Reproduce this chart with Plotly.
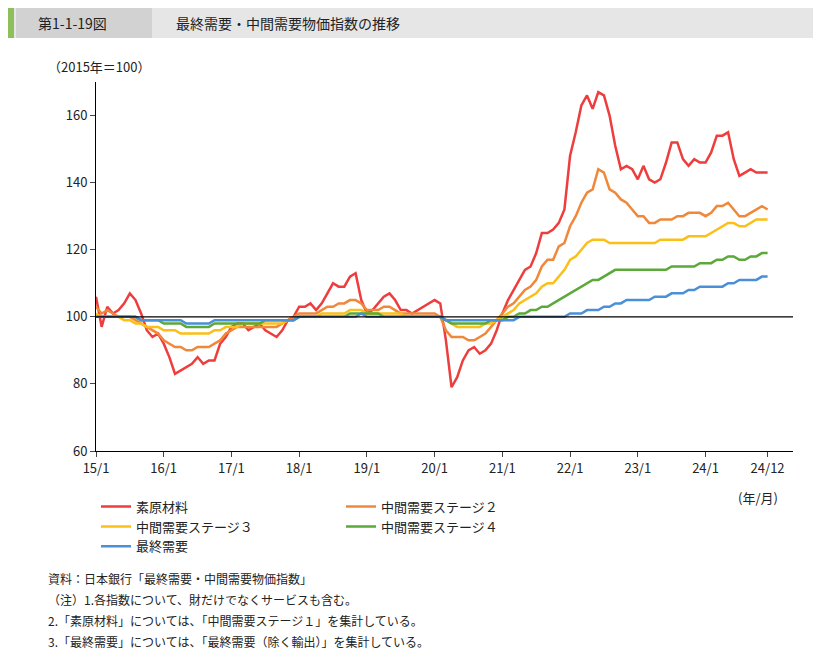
import plotly.graph_objects as go

raw = [106,97,103,101,102,104,107,105,101,96,94,95,
92,88,83,84,85,86,88,86,87,87,92,94,
97,98,98,96,97,98,96,95,94,96,99,100,
103,103,104,102,104,107,110,109,109,112,113,105,
101,102,104,106,107,105,102,102,101,102,103,104,
105,104,93,79,82,87,90,91,89,90,92,96,
101,105,108,111,114,115,119,125,125,126,128,132,
148,155,163,166,162,167,166,160,151,144,145,144,
141,145,141,140,141,146,152,152,147,145,147,146,
146,149,154,154,155,147,142,143,144,143,143,143]
st2 = [103,101,102,101,100,100,100,99,98,97,96,95,
93,92,91,91,90,90,91,91,91,92,93,95,
96,97,97,97,97,97,97,97,97,98,99,100,
101,101,101,101,102,103,103,104,104,105,105,104,
102,102,102,103,103,102,101,101,101,101,101,101,
101,100,96,94,94,94,93,93,94,95,97,99,
101,103,104,106,108,109,111,115,117,117,121,122,
127,130,134,137,138,144,143,138,137,135,134,132,
130,130,128,128,129,129,129,130,130,131,131,131,
130,131,133,133,134,132,130,130,131,132,133,132]
st3 = [101,100,100,100,100,99,99,98,98,97,97,97,
96,96,96,95,95,95,95,95,95,96,96,97,
97,97,98,98,98,98,98,98,98,98,99,99,
100,100,100,100,101,101,101,101,101,102,102,102,
101,101,101,101,101,101,101,100,100,100,100,100,
100,100,99,98,97,97,97,97,97,98,98,99,
100,101,102,104,105,106,107,109,110,110,112,114,
117,118,120,122,123,123,123,122,122,122,122,122,
122,122,122,122,123,123,123,123,123,124,124,124,
124,125,126,127,128,128,127,127,128,129,129,129]
st4 = [100,100,100,100,100,100,100,100,99,99,99,99,
98,98,98,98,97,97,97,97,97,98,98,98,
98,98,98,98,98,98,99,99,99,99,99,99,
100,100,100,100,100,100,100,100,100,101,101,101,
101,101,101,100,100,100,100,100,100,100,100,100,
100,100,99,98,98,98,98,98,98,98,99,99,
99,100,100,101,101,102,102,103,103,104,105,106,
107,108,109,110,111,111,112,113,114,114,114,114,
114,114,114,114,114,114,115,115,115,115,115,116,
116,116,117,117,118,118,117,117,118,118,119,119]
final = [100,100,100,100,100,100,100,100,99,99,99,99,
99,99,99,99,98,98,98,98,98,99,99,99,
99,99,99,99,99,99,99,99,99,99,99,99,
100,100,100,100,100,100,100,100,100,100,100,101,
100,100,100,100,100,100,100,100,100,100,100,100,
100,100,99,99,99,99,99,99,99,99,99,99,
99,99,99,100,100,100,100,100,100,100,100,100,
101,101,101,102,102,102,103,103,104,104,105,105,
105,105,105,106,106,106,107,107,107,108,108,109,
109,109,109,109,110,110,111,111,111,111,112,112]
names = ["素原材料","中間需要ステージ２","中間需要ステージ３","中間需要ステージ４","最終需要"]
colors = ["#ee3d3d","#f0883a","#fbbf16","#5aa93a","#4a90d6"]
tick_vals = [0,12,24,36,48,60,72,84,96,108,119]
tick_text = ["15/1","16/1","17/1","18/1","19/1","20/1","21/1","22/1","23/1","24/1","24/12"]

x = list(range(len(raw)))
fig = go.Figure()
for n, s, c in zip(names, [raw, st2, st3, st4, final], colors):
    fig.add_trace(go.Scatter(x=x, y=s, name=n, mode="lines", line=dict(color=c, width=2.5)))

font = "Noto Sans CJK JP"
fig.update_layout(
    width=821, height=649, plot_bgcolor="white", paper_bgcolor="white",
    margin=dict(l=88, r=36, t=74, b=206),
    font=dict(family=font, size=13, color="#222"),
    xaxis=dict(range=[0, 123.5], tickvals=tick_vals, ticktext=tick_text, showgrid=False,
               showline=True, linecolor="black", ticks="outside", ticklen=5, zeroline=False),
    yaxis=dict(range=[60, 170], tickvals=[60,80,100,120,140,160], showgrid=False,
               showline=True, linecolor="black", ticks="outside", ticklen=5, zeroline=False),
    legend=dict(orientation="h", x=0.0, y=-0.11, xanchor="left", yanchor="top",
                entrywidth=200, entrywidthmode="pixels", font=dict(size=13),
                tracegroupgap=0),
    shapes=[
        dict(type="line", xref="paper", x0=0, x1=1, yref="y", y0=100, y1=100, line=dict(color="black", width=1.2)),
        dict(type="rect", xref="paper", yref="paper", x0=-88/697, x1=785/697+36/697, y0=1+44/369, y1=1+74/369,
             fillcolor="#e6e6e6", line=dict(width=0), layer="below"),
        dict(type="rect", xref="paper", yref="paper", x0=-88/697, x1=-82/697, y0=1+44/369, y1=1+74/369,
             fillcolor="#8fbf5a", line=dict(width=0)),
        dict(type="rect", xref="paper", yref="paper", x0=-80/697, x1=56/697, y0=1+44/369, y1=1+74/369,
             fillcolor="#d2d2d2", line=dict(width=0), layer="below"),
    ],
)
ann = [
    dict(x=-60, y=15, text="第1-1-19図", size=14),
    dict(x=78, y=15, text="最終需要・中間需要物価指数の推移", size=14),
    dict(x=-50, y=58, text="（2015年＝100）", size=13),
    dict(x=640, y=490, text="(年/月)", size=13),
    dict(x=-50, y=570, text="資料：日本銀行「最終需要・中間需要物価指数」", size=12),
    dict(x=-50, y=591, text="（注）1.各指数について、財だけでなくサービスも含む。", size=12),
    dict(x=-50, y=612, text="2.「素原材料」については、「中間需要ステージ１」を集計している。", size=12),
    dict(x=-50, y=633, text="3.「最終需要」については、「最終需要（除く輸出）」を集計している。", size=12),
]
for a in ann:
    fig.add_annotation(xref="paper", yref="paper", x=a["x"]/697, y=1-(a["y"]-74)/369,
                       text=a["text"], showarrow=False, xanchor="left", yanchor="middle",
                       font=dict(size=a["size"], family=font, color="#222"))
fig.write_html("out.html")
